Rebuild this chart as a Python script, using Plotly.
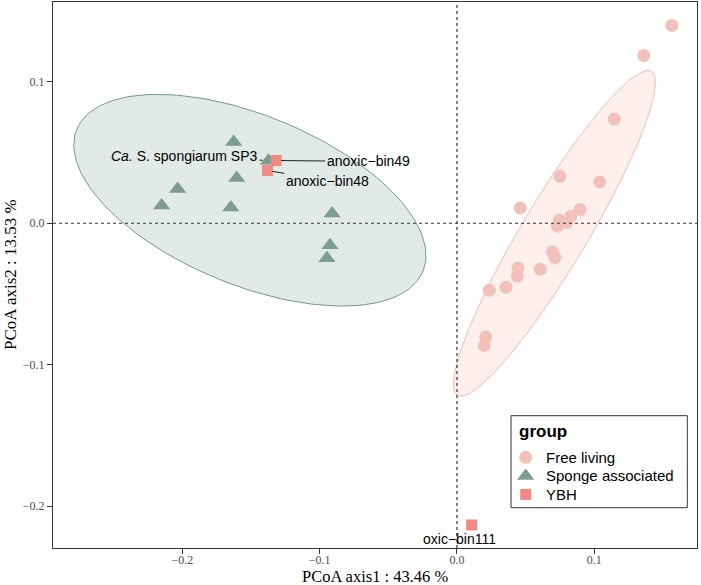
import numpy as np
import plotly.graph_objects as go

# ---------------- data ----------------
free_x = [0.1564, 0.1360, 0.1146, 0.0750, 0.1039, 0.0461, 0.0896, 0.0828, 0.0745, 0.0799,
          0.0731, 0.0696, 0.0714, 0.0444, 0.0439, 0.0607, 0.0357, 0.0235, 0.0209, 0.0199]
free_y = [0.1399, 0.1187, 0.0737, 0.0332, 0.0292, 0.0108, 0.0097, 0.0049, 0.0021, 0.0005,
          -0.0021, -0.0203, -0.0244, -0.0316, -0.0375, -0.0325, -0.0452, -0.0473, -0.0804, -0.0864]

sponge_x = [-0.1626, -0.1373, -0.1604, -0.2034, -0.2151, -0.1647, -0.0909, -0.0925, -0.0947]
sponge_y = [0.0575, 0.0443, 0.0320, 0.0242, 0.0125, 0.0112, 0.0069, -0.0155, -0.0247]
sponge_names = ["", "<i>Ca.</i> S. spongiarum SP3", "", "", "", "", "", "", ""]

ybh_x = [-0.1317, -0.1380, 0.0107]
ybh_y = [0.0444, 0.0373, -0.2134]
ybh_names = ["anoxic\u2212bin49", "anoxic\u2212bin48", "oxic\u2212bin111"]

# 95% confidence ellipses: centre, semi-axes, angle (deg)
ell_groups = ["Free living", "Sponge associated"]
ell_cx = [0.0710, -0.1508]
ell_cy = [-0.0071, 0.0163]
ell_a = [0.1346, 0.1357]
ell_b = [0.0237, 0.0603]
ell_angle = [58.3, -21.4]

group_names = ["Free living", "Sponge associated", "YBH"]
legend_title = "group"
x_title = "PCoA axis1 : 43.46 %"
y_title = "PCoA axis2 : 13.53 %"
tick_vals = [-0.2, -0.1, 0.0, 0.1]

# ---------------- styling ----------------
C_FREE = "#F2C1BA"
C_SPONGE = "#7B9D93"
C_YBH = "#F28A84"
ELL_FILL = ["#FCEFEC", "#E2EAE7"]
ELL_LINE = ["#F5BBB1", "#6E9B8C"]
SERIF = "Liberation Serif"
SANS = "Liberation Sans"
X_RANGE = [-0.2942, 0.1748]
Y_RANGE = [-0.2297, 0.1565]

# plot area in pixels (for placing legend pieces)
PL, PR, PT, PB = 53, 697, 2, 548


def px(xp):
    return (xp - PL) / (PR - PL)


def py(yp):
    return (PB - yp) / (PB - PT)


# label placement (pixel offsets of label centre from its point)
label_offsets = {
    "<i>Ca.</i> S. spongiarum SP3": (-84, -5),
    "anoxic\u2212bin49": (92, 1),
    "anoxic\u2212bin48": (60, 10),
    "oxic\u2212bin111": (-12, 14),
}

fig = go.Figure()

t = np.linspace(0, 2 * np.pi, 181)
for i in range(len(ell_groups)):
    th = np.deg2rad(ell_angle[i])
    ex = ell_cx[i] + ell_a[i] * np.cos(t) * np.cos(th) - ell_b[i] * np.sin(t) * np.sin(th)
    ey = ell_cy[i] + ell_a[i] * np.cos(t) * np.sin(th) + ell_b[i] * np.sin(t) * np.cos(th)
    fig.add_trace(go.Scatter(x=ex, y=ey, mode="lines", fill="toself", fillcolor=ELL_FILL[i],
                             line=dict(color=ELL_LINE[i], width=1), showlegend=False,
                             hoverinfo="skip"))

MK = [dict(symbol="circle", size=13, color=C_FREE),
      dict(symbol="triangle-up", size=15, color=C_SPONGE),
      dict(symbol="square", size=11, color=C_YBH)]

fig.add_trace(go.Scatter(x=free_x, y=free_y, mode="markers", name=group_names[0], marker=MK[0]))
fig.add_trace(go.Scatter(x=sponge_x, y=sponge_y, mode="markers", name=group_names[1], marker=MK[1]))
fig.add_trace(go.Scatter(x=ybh_x, y=ybh_y, mode="markers", name=group_names[2], marker=MK[2]))

# reference lines at 0
fig.add_shape(type="line", xref="x", yref="paper", x0=0, x1=0, y0=0, y1=1,
              line=dict(color="#333333", width=1.2, dash="dot"), layer="above")
fig.add_shape(type="line", xref="paper", yref="y", x0=0, x1=1, y0=0, y1=0,
              line=dict(color="#333333", width=1.2, dash="dot"), layer="above")

# point labels
annots = []
for xs, ys, names, standoff in [(sponge_x, sponge_y, sponge_names, 6), (ybh_x, ybh_y, ybh_names, 5)]:
    for x, y, txt in zip(xs, ys, names):
        if not txt:
            continue
        dx, dy = label_offsets[txt]
        arrow = txt != "oxic\u2212bin111"
        annots.append(dict(x=x, y=y, xref="x", yref="y", text=txt, showarrow=arrow,
                           ax=dx, ay=dy, arrowhead=0, arrowwidth=1, arrowcolor="#222222",
                           standoff=standoff, font=dict(family=SANS, size=14, color="black"),
                           xshift=0 if arrow else dx, yshift=0 if arrow else -dy))

# axis titles
annots.append(dict(text=x_title, xref="paper", yref="paper", x=0.5, y=0, yanchor="middle",
                   yshift=-28, showarrow=False, borderpad=0,
                   font=dict(family=SERIF, size=16.5, color="black")))
annots.append(dict(text=y_title, xref="paper", yref="paper", x=0, y=0.5, xanchor="center",
                   xshift=-43, textangle=-90, showarrow=False,
                   font=dict(family=SERIF, size=17, color="black")))

# ---------------- legend (drawn as a box) ----------------
LEG_BOX = (511, 415.7, 687.3, 507.7)
LEG_ROWS = [457.3, 475.9, 494.4]
fig.add_shape(type="rect", xref="paper", yref="paper",
              x0=px(LEG_BOX[0]), x1=px(LEG_BOX[2]), y0=py(LEG_BOX[3]), y1=py(LEG_BOX[1]),
              line=dict(color="#333333", width=1), fillcolor="white", layer="below")
annots.append(dict(text="<b>%s</b>" % legend_title, xref="paper", yref="paper",
                   x=px(516.5), y=py(431), xanchor="left", yanchor="middle", showarrow=False,
                   font=dict(family=SANS, size=17, color="black")))
for name, yr in zip(group_names, LEG_ROWS):
    annots.append(dict(text=name, xref="paper", yref="paper", x=px(543.5), y=py(yr),
                       xanchor="left", yanchor="middle", showarrow=False,
                       font=dict(family=SANS, size=15, color="black")))
for i in range(3):
    fig.add_trace(go.Scatter(x=[px(525.7)], y=[py(LEG_ROWS[i])], xaxis="x2", yaxis="y2",
                             mode="markers", marker=MK[i], showlegend=False, hoverinfo="skip"))

axis_common = dict(showgrid=False, zeroline=False, showline=True, mirror=True,
                   linecolor="#333333", linewidth=1.2, ticks="outside", ticklen=5,
                   tickcolor="#333333", tickwidth=1, tickvals=tick_vals, tickformat=".1f",
                   tickfont=dict(family=SERIF, size=12, color="#4D4D4D"))

fig.update_layout(
    width=701, height=585,
    margin=dict(l=PL, r=701 - PR, t=PT, b=585 - PB),
    paper_bgcolor="white", plot_bgcolor="white",
    xaxis=dict(range=X_RANGE, ticklabelstandoff=-5, **axis_common),
    yaxis=dict(range=Y_RANGE, **axis_common),
    xaxis2=dict(range=[0, 1], overlaying="x", visible=False, fixedrange=True),
    yaxis2=dict(range=[0, 1], overlaying="y", visible=False, fixedrange=True),
    annotations=annots,
    showlegend=False,
)

fig.write_html("out.html")
